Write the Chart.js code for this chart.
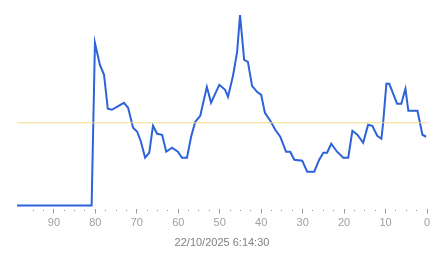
<!DOCTYPE html>
<html>
<head>
<meta charset="utf-8">
<script src="https://cdn.jsdelivr.net/npm/chart.js@4.4.0/dist/chart.umd.min.js"></script>
<style>
  html, body { margin: 0; padding: 0; background: #fff; }
  #wrap { width: 443px; height: 258px; }
</style>
</head>
<body>
<div id="wrap"><canvas id="signalChart" width="443" height="258"></canvas></div>
<script>
// seconds ago (x) and reading (y)
var secondsAgo = [98.9, 80.9, 80.1, 78.9, 77.9, 77.0, 76.0, 74.8, 73.1, 72.1, 70.9, 69.9, 69.0, 68.0, 67.0,
    66.1, 65.1, 63.9, 62.9, 61.5, 60.1, 59.1, 57.9, 56.9, 55.9, 54.7, 53.1, 52.1, 50.1, 48.7, 48.0,
    46.8, 45.8, 45.1, 44.1, 43.2, 42.2, 41.0, 40.0, 39.1, 37.8, 36.6, 35.4, 34.0, 33.0, 32.0, 30.1,
    28.9, 27.2, 26.0, 25.0, 24.1, 23.1, 21.7, 20.2, 19.0, 18.0, 16.8, 15.4, 14.2, 13.2, 12.0, 11.0,
    10.6, 9.8, 9.1, 7.2, 6.2, 5.2, 4.5, 2.3, 1.1, 0.2];
var readings = [0, 0, 163, 141, 131, 97, 96, 99, 103, 98, 78, 74, 64, 48, 53,
    80, 72, 71, 54, 58, 54, 48, 48, 69, 84, 90, 119, 103, 121, 116, 109,
    130, 154, 191, 146, 144, 120, 114, 111, 93, 85, 76, 69, 54, 54, 46, 45,
    34, 34, 46, 53, 53, 62, 54, 48, 48, 75, 71, 63, 81, 80, 70, 67,
    82, 122, 122, 102, 102, 117, 95, 95, 71, 69];
var averageLevel = 83;
var timestamp = '22/10/2025 6:14:30';

var points = [];
for (var i = 0; i < secondsAgo.length; i++) {
    points.push({ x: secondsAgo[i], y: readings[i] });
}
var avgLine = [{ x: 98.9, y: averageLevel }, { x: 0, y: averageLevel }];

var ctx = document.getElementById('signalChart').getContext('2d');
var signalChart = new Chart(ctx, {
    type: 'line',
    data: {
        datasets: [{
            data: avgLine,
            borderColor: '#eedc86',
            borderWidth: 1,
            pointRadius: 0
        }, {
            data: points,
            borderColor: '#2d62d9',
            borderWidth: 2,
            pointRadius: 0,
            tension: 0
        }]
    },
    options: {
        responsive: false,
        animation: false,
        layout: { padding: { left: 17, right: 16, top: 11, bottom: 8 } },
        plugins: {
            legend: { display: false },
            tooltip: { enabled: false },
            title: {
                display: true,
                position: 'bottom',
                text: timestamp,
                color: '#808080',
                font: { family: 'Liberation Sans, Arial, sans-serif', size: 11, weight: 'normal' },
                padding: { top: 4, bottom: 0 }
            }
        },
        scales: {
            x: {
                type: 'linear',
                reverse: true,
                min: 0,
                max: 98.9,
                border: { display: false },
                afterBuildTicks: function (scale) {
                    scale.ticks = scale.ticks.filter(function (t) { return Math.abs(t.value / 2.5 - Math.round(t.value / 2.5)) < 1e-6; });
                },
                grid: {
                    drawOnChartArea: false,
                    tickLength: 5,
                    tickColor: function (c) { return c.tick && c.tick.value % 10 === 0 ? '#9a9a9a' : '#8a8a8a'; },
                    tickBorderDash: function (c) { return c.tick && c.tick.value % 10 === 0 ? [] : [1, 10]; },
                    tickBorderDashOffset: function (c) { return c.tick && c.tick.value % 10 === 0 ? 0 : -1; }
                },
                ticks: {
                    stepSize: 2.5,
                    autoSkip: false,
                    maxRotation: 0,
                    padding: 3,
                    color: '#a0a0a0',
                    font: { family: 'Liberation Sans, Arial, sans-serif', size: 11 },
                    callback: function (v) { return v % 10 === 0 ? String(v) : ''; }
                }
            },
            y: {
                display: false,
                min: -3,
                max: 195
            }
        }
    }
});
</script>
</body>
</html>
